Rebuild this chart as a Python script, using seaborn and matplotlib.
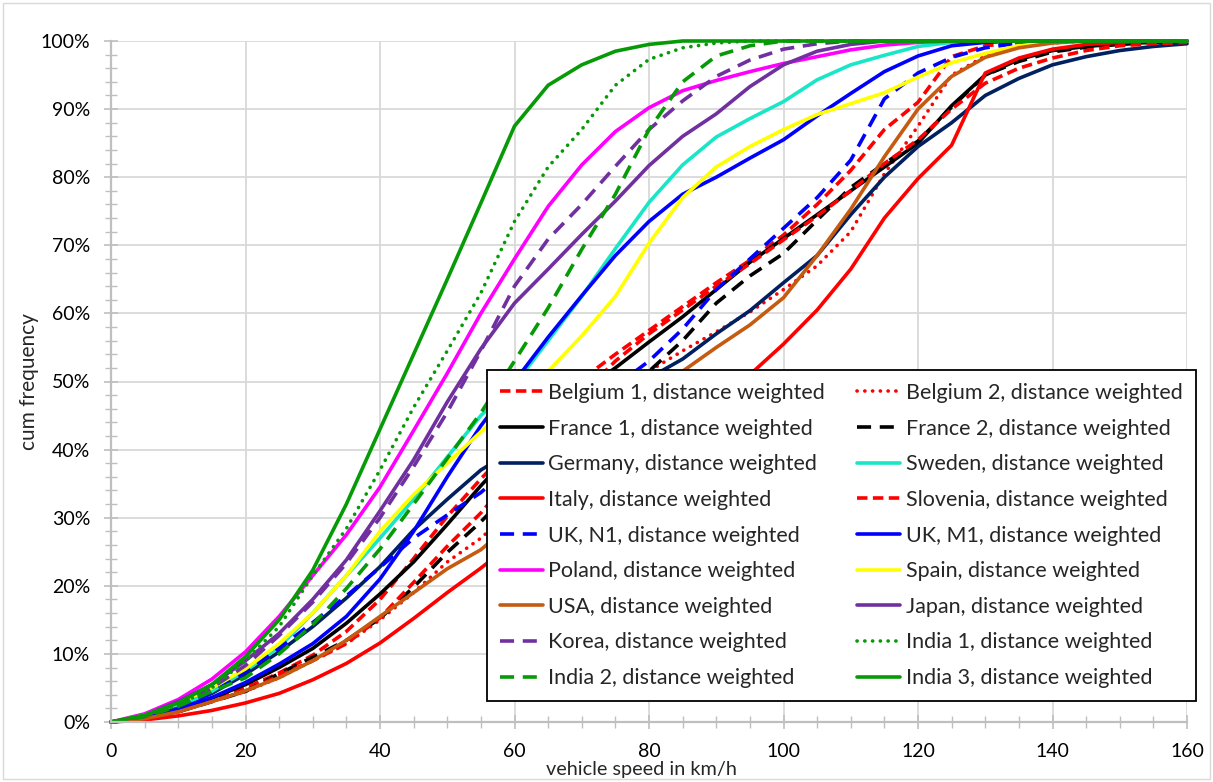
import matplotlib
matplotlib.use("Agg")
import matplotlib.pyplot as plt
import seaborn as sns
import pandas as pd
from matplotlib.ticker import MultipleLocator, FuncFormatter
from matplotlib.patches import Rectangle

# ---------------- data (cumulative frequency in %, speed in km/h) ----------------
speeds = list(range(0, 165, 5))

belgium1 = [0, 0.6, 1.8, 3.3, 5, 7.2, 9.8, 13.3, 18, 24, 30.2, 35.7, 40.8, 45.5, 50.3, 54, 57.5,
            61, 64.5, 67.8, 71.5, 76, 81, 87, 91, 97.7, 99.3, 99.8, 100, 100, 100, 100, 100]
belgium2 = [0, 0.5, 1.5, 3, 4.5, 6.5, 9, 11.5, 15, 19, 23.5, 27, 31.5, 36.5, 41.5, 46.5, 51.5,
            54.5, 57.3, 60.2, 63.5, 67, 72, 80.5, 87.5, 95, 97.8, 99.2, 99.7, 100, 100, 100, 100]
france1 = [0, 0.5, 1.8, 3.5, 5.5, 8, 10.8, 14.5, 18.8, 23.5, 29, 34.7, 40, 44.5, 48.5, 52, 55.8,
           59.5, 63.5, 67.5, 71, 74.5, 78, 81.5, 85, 90.5, 95, 97.3, 98.6, 99.2, 99.6, 99.8, 100]
france2 = [0, 0.5, 1.5, 3, 4.5, 7.1, 9.5, 12, 15.2, 19.8, 24.9, 29.4, 34.5, 39, 43.5, 47.5, 51.5,
           56, 61.5, 65.5, 68.8, 73.7, 78.5, 82, 85.3, 90.3, 95, 97, 98.4, 99.1, 99.5, 99.8, 100]
germany = [0, 0.7, 2.2, 4.2, 7, 10.3, 14, 18.2, 22.8, 28.2, 32.7, 37, 40, 43, 45.5, 48, 50.5,
           53.3, 57, 60.4, 64.5, 68.5, 74.5, 80, 84.5, 88, 92, 94.5, 96.5, 97.7, 98.6, 99.2, 99.6]
sweden = [0, 0.8, 2.2, 4.5, 7.5, 11, 16, 21.5, 27, 32.7, 38.9, 45, 49.5, 56, 62.5, 69.5, 76.3,
          81.8, 85.9, 88.6, 91.1, 94.3, 96.5, 97.9, 99.2, 99.8, 100, 100, 100, 100, 100, 100, 100]
italy = [0, 0.3, 0.9, 1.7, 2.8, 4.2, 6.2, 8.6, 11.6, 15.2, 19, 22.6, 26.5, 30, 33.5, 37, 40.5,
         44, 47.5, 51, 55.5, 60.5, 66.5, 74, 79.8, 84.7, 95.3, 97.5, 98.8, 99.5, 99.8, 100, 100]
slovenia = [0, 0.5, 1.5, 3, 4.5, 6.8, 9, 11.5, 15.3, 20.5, 25.8, 30.7, 36.5, 42.5, 48, 53, 57,
            60.5, 64, 67.3, 70.8, 74.3, 78, 82, 85.5, 90, 93.8, 96, 97.5, 98.6, 99.3, 99.6, 99.8]
uk_n1 = [0, 0.8, 2.3, 4.3, 7.4, 10.8, 14.6, 18.5, 22.7, 27, 30.4, 33.7, 38, 42, 45.5, 49.3, 53,
         57.7, 63.5, 68, 72.5, 77, 82.5, 91.5, 95.3, 97.6, 99, 99.7, 100, 100, 100, 100, 100]
uk_m1 = [0, 0.7, 2, 3.6, 5.8, 8.5, 11.5, 15.5, 21, 28, 36, 43.5, 50, 56.5, 62.6, 68.5, 73.5,
         77.5, 80, 82.8, 85.5, 89, 92.3, 95.5, 97.8, 99.3, 99.8, 100, 100, 100, 100, 100, 100]
poland = [0, 1.2, 3.3, 6.3, 10.3, 15.5, 21.5, 27.5, 34.5, 42.8, 51.2, 60, 68, 75.7, 81.8, 86.7, 90.2,
          92.7, 94.2, 95.5, 96.7, 97.7, 98.7, 99.4, 99.8, 100, 100, 100, 100, 100, 100, 100, 100]
spain = [0, 1, 2.8, 5, 7.8, 11.5, 16, 21.5, 28, 33.4, 38, 42.6, 47, 51.5, 56.7, 62.5, 70.3,
         77, 81.5, 84.5, 87, 89.2, 90.8, 92.4, 94.7, 96.8, 98.2, 99.3, 99.8, 100, 100, 100, 100]
usa = [0, 0.5, 1.5, 3, 4.6, 6.5, 9, 12, 15.5, 19, 22.5, 25.3, 29.5, 34, 38.5, 42.5, 47,
       51.5, 55, 58.3, 62.3, 68.5, 75.3, 83, 90, 94.8, 97.6, 99, 99.7, 100, 100, 100, 100]
japan = [0, 1, 3, 5.5, 9, 13, 18, 23.8, 31, 38.5, 47, 54.8, 61.5, 66.5, 71.6, 76.5, 81.7,
         86, 89.3, 93.3, 96.5, 98.5, 99.5, 100, 100, 100, 100, 100, 100, 100, 100, 100, 100]
korea = [0, 0.8, 2.5, 5, 8.3, 12.7, 17.6, 23.3, 30, 37.5, 45.5, 54.5, 64, 70.9, 76, 81.6, 87,
         91.2, 94.8, 97.2, 98.8, 99.6, 100, 100, 100, 100, 100, 100, 100, 100, 100, 100, 100]
india1 = [0, 0.8, 2.5, 5, 9, 14, 21.5, 28.4, 37, 46.2, 54.5, 63, 73.5, 81.5, 87, 93.5, 97.3,
          99, 99.7, 100, 100, 100, 100, 100, 100, 100, 100, 100, 100, 100, 100, 100, 100]
india2 = [0, 0.8, 2.3, 4.5, 6.5, 10, 14.3, 19.6, 25.4, 32, 38.7, 45.4, 53, 60.8, 69.4, 77.5, 87,
          94, 97.8, 99.3, 100, 100, 100, 100, 100, 100, 100, 100, 100, 100, 100, 100, 100]
india3 = [0, 1, 2.8, 5.5, 9.6, 15, 22.3, 32, 43, 54, 65, 76.2, 87.5, 93.5, 96.5, 98.5, 99.5,
          100, 100, 100, 100, 100, 100, 100, 100, 100, 100, 100, 100, 100, 100, 100, 100]

series_names = ["Belgium 1", "Belgium 2", "France 1", "France 2", "Germany", "Sweden",
                "Italy", "Slovenia", "UK, N1", "UK, M1", "Poland", "Spain", "USA", "Japan",
                "Korea", "India 1", "India 2", "India 3"]
series_values = [belgium1, belgium2, france1, france2, germany, sweden, italy, slovenia,
                 uk_n1, uk_m1, poland, spain, usa, japan, korea, india1, india2, india3]

# ---------------- styles ----------------
RED, BLACK, NAVY, CYAN = "#FF0000", "#000000", "#002060", "#19E6C6"
BLUE, MAGENTA, YELLOW, ORANGE = "#0000FF", "#FF00FF", "#FFFF00", "#C55A11"
PURPLE, GREEN = "#7030A0", "#079A07"
SOLID = "-"
DOT = (0, (0.05, 2.1))
DASH = (0, (2.9, 1.5))
LDASH = (0, (3.9, 2.4))
series_colors = [RED, RED, BLACK, BLACK, NAVY, CYAN, RED, RED, BLUE, BLUE, MAGENTA, YELLOW,
                 ORANGE, PURPLE, PURPLE, GREEN, GREEN, GREEN]
series_styles = [DASH, DOT, SOLID, LDASH, SOLID, SOLID, SOLID, DASH, LDASH, SOLID, SOLID, SOLID,
                 SOLID, SOLID, LDASH, DOT, LDASH, SOLID]

sns.set_theme(style="white")
plt.rcParams['font.family'] = ['Lato', 'DejaVu Sans']

W, H = 1213, 782
fig = plt.figure(figsize=(W / 100, H / 100), dpi=100)
ax = fig.add_axes([111 / W, 1 - 722 / H, (1187 - 111) / W, (722 - 41) / H])

LW = 2.6
for name, vals, col, ls in zip(series_names, series_values, series_colors, series_styles):
    df = pd.DataFrame({"speed": speeds, "freq": vals})
    sns.lineplot(data=df, x="speed", y="freq", ax=ax, color=col, linewidth=LW,
                 linestyle=ls, label=f"{name}, distance weighted", clip_on=False,
                 dash_capstyle="round" if ls == DOT else "butt")

ax.set_xlim(0, 160)
ax.set_ylim(0, 100)
ax.xaxis.set_major_locator(MultipleLocator(20))
ax.xaxis.set_minor_locator(MultipleLocator(5))
ax.yaxis.set_major_locator(MultipleLocator(10))
ax.yaxis.set_minor_locator(MultipleLocator(2))
ax.yaxis.set_major_formatter(FuncFormatter(lambda v, p: f"{v:.0f}%"))
ax.grid(True, which="major", color="#D9D9D9", linewidth=1.3, zorder=0)
ax.set_axisbelow(True)
for s in ["top", "right"]:
    ax.spines[s].set_visible(False)
for s in ["left", "bottom"]:
    ax.spines[s].set_color("#BFBFBF")
    ax.spines[s].set_linewidth(1.6)
ax.tick_params(which="major", direction="inout", length=10, width=1.2, color="#BFBFBF",
               labelsize=14, labelcolor="#000000", pad=10)
ax.tick_params(which="minor", direction="inout", length=8, width=1.0, color="#BFBFBF")
ax.tick_params(axis="both", which="both", left=True, bottom=True)

ax.set_xlabel("vehicle speed in km/h", fontsize=14.3, labelpad=0)
ax.xaxis.set_label_coords((641 - 111) / 1076, -0.058)
ax.set_ylabel("cum frequency", fontsize=15, labelpad=1)

handles, labels = ax.get_legend_handles_labels()
order = list(range(0, 18, 2)) + list(range(1, 18, 2))
leg = ax.legend([handles[i] for i in order], [labels[i] for i in order], ncol=2,
                loc="upper left", bbox_to_anchor=(487 / W, 1 - 370 / H),
                bbox_transform=fig.transFigure, fontsize=15.5, frameon=True, fancybox=False,
                framealpha=1, edgecolor="#000000", handlelength=2.0, handletextpad=0.25,
                columnspacing=1.5, labelspacing=0.727, borderpad=0.6, borderaxespad=0)
leg.get_frame().set_linewidth(1.3)

fig.patches.append(Rectangle((3 / W, 3 / H), 1 - 6 / W, 1 - 6 / H, transform=fig.transFigure,
                             fill=False, edgecolor="#D9D9D9", linewidth=1.0))

fig.savefig("out.png", dpi=100, facecolor="white")
